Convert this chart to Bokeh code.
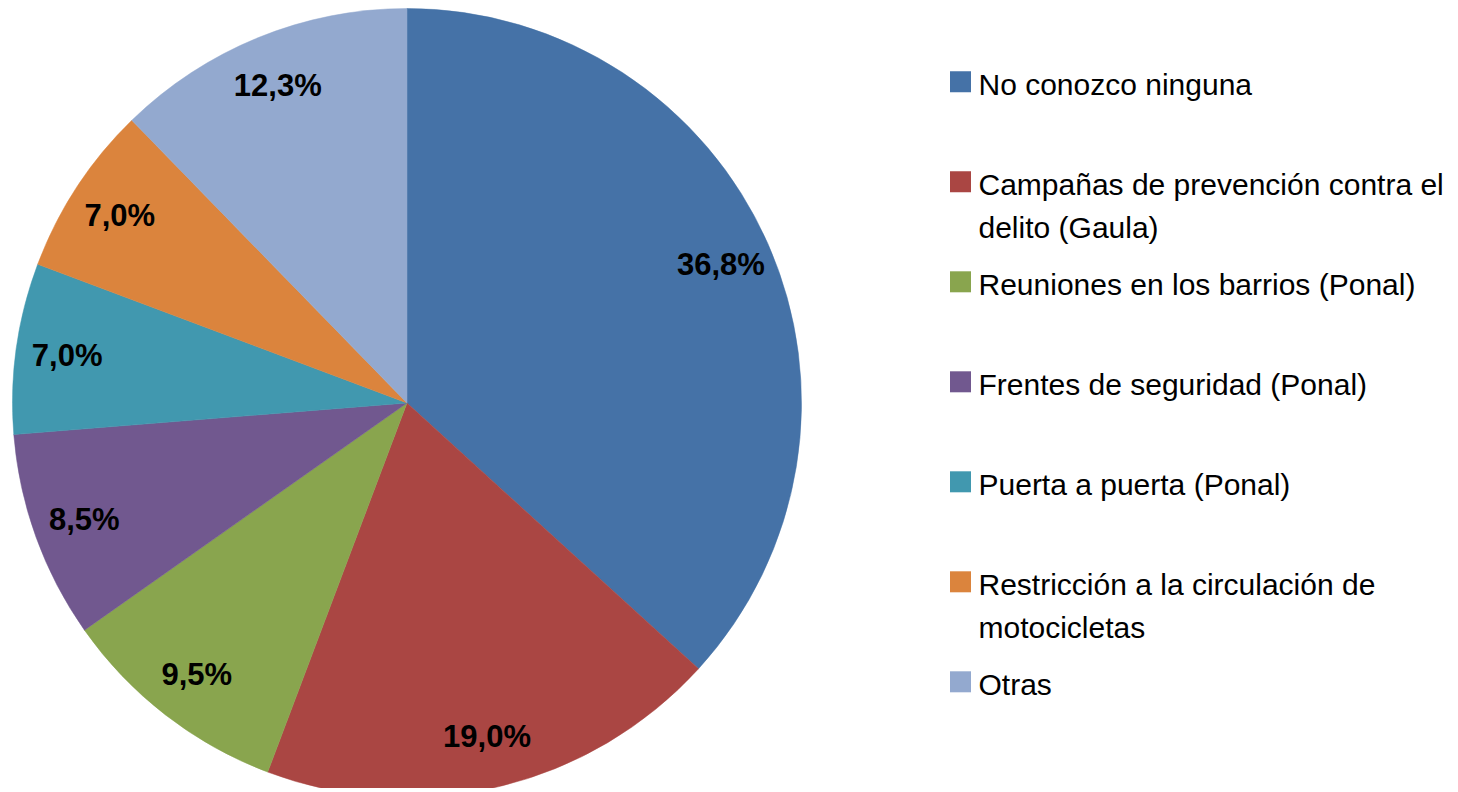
import math
from bokeh.plotting import figure
from bokeh.models import Range1d, ColumnDataSource
from bokeh.core.properties import value
from bokeh.embed import file_html
from bokeh.resources import INLINE

# ---- data ----
categories = [
    "No conozco ninguna",
    "Campañas de prevención contra el\ndelito (Gaula)",
    "Reuniones en los barrios (Ponal)",
    "Frentes de seguridad (Ponal)",
    "Puerta a puerta (Ponal)",
    "Restricción a la circulación de\nmotocicletas",
    "Otras",
]
shares = [36.8, 19.0, 9.5, 8.5, 7.0, 7.0, 12.3]
labels = ["36,8%", "19,0%", "9,5%", "8,5%", "7,0%", "7,0%", "12,3%"]
colors = ["#4572A7", "#AA4643", "#89A54E", "#71588F", "#4198AF", "#DB843D", "#93A9CF"]

FONT = "Liberation Sans"
W, H = 1458, 788
cx, cy, R = 406.5, H - 402.5, 394.5

total = sum(shares)
starts, ends, lx, ly = [], [], [], []
cum = 0.0
for s in shares:
    a0 = math.pi / 2 - 2 * math.pi * cum / total
    cum += s
    a1 = math.pi / 2 - 2 * math.pi * cum / total
    starts.append(a0)
    ends.append(a1)
    mid = (a0 + a1) / 2
    lr = 0.87 * R
    lx.append(cx + lr * math.cos(mid))
    ly.append(cy + lr * math.sin(mid))

p = figure(width=W, height=H, output_backend="svg", toolbar_location=None,
           x_range=Range1d(0, W), y_range=Range1d(0, H), min_border=0)
p.axis.visible = False
p.grid.visible = False
p.outline_line_color = None
p.background_fill_color = "white"
p.border_fill_color = "white"

src = ColumnDataSource(dict(start=starts, end=ends, color=colors, x=[cx] * len(shares),
                            y=[cy] * len(shares)))
p.wedge(x="x", y="y", radius=R, start_angle="start", end_angle="end", direction="clock",
        fill_color="color", line_color="color", line_width=0.5, source=src)

p.text(x=lx, y=ly, text=labels, text_font=value(FONT), text_font_size="31px",
       text_font_style="bold", text_color="black", text_align="center",
       text_baseline="middle")

# ---- legend ----
sq_y = []
t_x, t_y, t_txt = [], [], []
for i, c in enumerate(categories):
    base = 84 + 100 * i  # first line position, from top
    sq_y.append(H - (base - 2.7))
    for j, line in enumerate(c.split("\n")):
        t_x.append(978)
        t_y.append(H - (base + 43 * j))
        t_txt.append(line)

p.rect(x=[960] * len(categories), y=sq_y, width=21, height=21, fill_color=colors,
       line_color=None)
p.text(x=t_x, y=t_y, text=t_txt, text_font=value(FONT), text_font_size="30px",
       text_color="black", text_align="left", text_baseline="alphabetic")

open("out.html", "w").write(file_html(p, INLINE))
